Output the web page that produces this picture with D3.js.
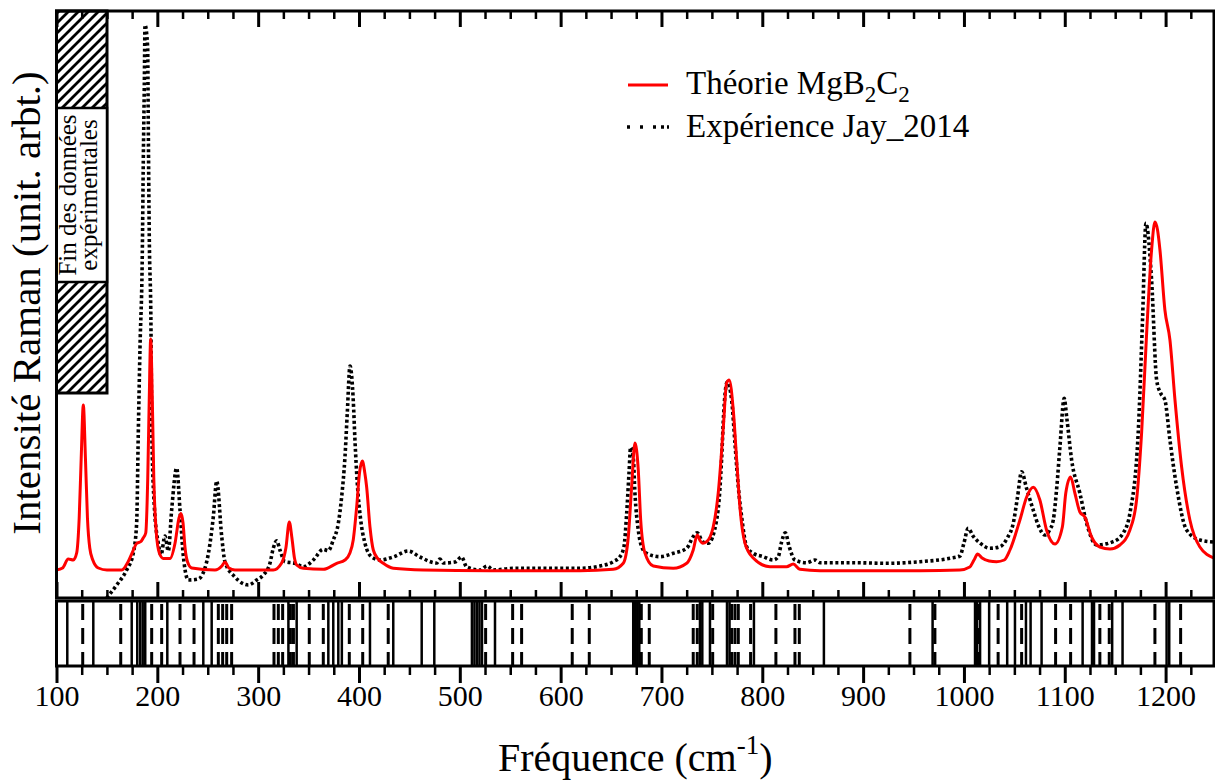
<!DOCTYPE html>
<html><head><meta charset="utf-8">
<script src="https://cdn.jsdelivr.net/npm/d3@7"></script>
<style>
body{margin:0;background:#fff}
svg{display:block}
svg text{font-family:"Liberation Serif","Nimbus Roman","Tinos","Times New Roman","DejaVu Serif",serif !important;fill:#000}
</style>
</head><body>
<svg id="c" width="1215" height="780"></svg>
<script>
// ---------- data ----------
const theoryFreq = [100,106,111.7,116.7,120,122.5,124.5,126.6,128.7,130.7,133,136,141.5,150,164.7,170.9,175,179.5,183.8,186,188.5,190.5,192,193.4,195,196.5,199,202,206,212.6,217.5,221.5,223.5,225.5,227.4,230,234.1,257.2,264,267.1,271,277,315,323.3,327.5,330.9,333.5,336,338.2,344.8,364.6,377.9,386.1,391,394.3,397.7,400.5,403.3,405.8,407.6,410.9,414.2,419,424.1,434,463.8,529.9,619.2,652.2,662.1,667.1,670.4,673.7,677,679.4,683.6,691.9,711.7,725,731.5,735.5,738.5,740.8,744.8,751.3,756.3,761.3,764.6,767.2,771.2,774.6,777.8,782.8,791,807.6,824.1,830.7,837.3,857.2,956.3,995.9,1005.8,1010,1013.6,1018,1025,1032.4,1040,1045.6,1055.5,1062.2,1068.7,1075.3,1081.9,1090.3,1097.6,1101,1105.8,1110,1115,1119.9,1126.6,1134.8,1144.8,1154.7,1164.6,1171.2,1176.2,1181.2,1186.1,1189.4,1192,1194.4,1199.3,1204.3,1209.3,1215.9,1224.1,1234,1248];
const theoryInt = [28,30,39,38,45,80,140,193,140,80,50,38,30,28,28,36,45,54.5,56.5,60,65,120,200,259,200,120,65,45,39.5,39.5,54.5,80,84.5,75,51,36,30,28,32,36,30,28,28,35,50,76,60,40,33,29.7,28.7,34.7,38,45,58,91,125,137,125,111,71,48,39,34.7,29.7,28,27.3,27.3,28.7,34.7,61,111,155,128,78,45,32,29.7,34.7,48,63,57,54.7,56.3,71,105,170,215,218,188,138,91,55,40,31.3,31.3,34,28.7,27.3,27.3,28,31,38,44,40,37,36.3,38,48,78,101,110.7,98,68,54,71,105,121,105,86,81,61,51,49,53,68,98,165,265,348,376,368,348,288,258,198,131,78,51,40];

const expFreq = [149.8,159.7,169.6,176.2,179.5,181.1,182.8,185.1,186.1,187.1,187.8,190.4,191,192,193.7,194.4,197,201,203.6,207.6,210.9,214.2,219.2,222.5,225.7,230.7,240.6,248.9,255.5,258.9,263.8,267.1,277,290.2,298.5,305.1,311.7,315,318.4,321.6,326.6,336.5,344.8,354.7,364.6,369.5,374.5,379.5,382.8,386.1,388.4,391.1,394.3,396,398.3,401.7,405.9,412.6,420.8,434,448.9,460.5,477,480.3,483.6,495.2,501.8,506.8,520,527,533.2,553,586.1,619.2,639,652.2,658.8,662.8,665.5,667.8,669.4,672,673.7,677,680.3,685.3,698.4,711.7,725,731.5,735.5,740.8,746.4,754.7,757.9,759.6,761.9,765.2,769.6,772.9,776.2,779.5,784.5,791,800.9,810.9,815.8,819.2,822.8,826.7,832.4,844,852.2,857.2,890.2,923.3,956.3,986.1,996,1000,1004.2,1009,1015.8,1025.7,1035.7,1043,1048.9,1053,1057.2,1062,1068.7,1074,1080.3,1085,1088.6,1092,1095.2,1099.4,1102,1106.8,1115,1121.7,1131.6,1148,1158,1164.6,1172.8,1177.2,1180.5,1186.1,1191.1,1195,1199.3,1204.3,1210.9,1220.8,1234,1248];
const expInt = [0,13,28,45,75,164,250,344,438,513,573,551,476,363,269,175,92,54.5,43,62,47,88,130,88,43,18,19,36,81,117,62,36,21,13,18,23,34.7,49.7,57.3,48,36.3,34.7,31.3,38,48.7,47.3,58,74.7,101,141,185,232,198,158,115,78,55,41,38,41,47,41,35,39,35,36,41,31,28,32,28,29.7,29.7,29.7,32,36.3,41.3,51.3,84.7,124.7,150.7,141.3,104.7,68,51.3,44.7,41.3,44.7,49.7,61.3,65.3,56.3,54.7,78,108,138,188,216,198,154.7,111.3,81.3,51.3,44.7,41.3,38,41.3,56.3,65.3,51.3,38,35.3,38,35.3,35.3,34.7,36.3,39.7,42,55,69.7,62,55,49.7,51.3,60,74.7,100,126.3,110,88,72,63,68,78,110,151.3,199.7,180,138,104.7,74.7,53,56.3,65,84.7,164.7,281.3,374.7,318,218,205,198,158,111.3,68,58,56];

const solidModes = [110.7,136.5,174.6,180.1,183,185.5,188,209.9,245.6,253.9,330,338.2,369.6,374.5,379.5,383,410.9,434,462.2,474.7,512,514.5,517,519.5,522,534.9,672,674,676,678,738.2,740.5,748.1,765,767.5,791.7,861.1,968.9,1011,1013,1016,1025,1042.9,1050.6,1061.5,1066.1,1077,1117.7,1127,1129,1147,1157.3,1201,1203.6];
const dashedModes = [126,163.7,194.4,204.3,222.5,236.4,260.5,264.8,268.8,273.7,315.7,320,324.3,332,335,350.7,364.6,390.4,403.7,429,525.6,552.4,561.3,611.5,628.4,680,687.9,731.5,735.5,750.8,769.6,772.9,776.2,788.4,813.5,832.4,836.7,946.4,971.2,1014.5,1033.9,1057.2,1090.9,1105.8,1134.8,1144.1,1189.4,1214.9];

const majorTicks = [100,200,300,400,500,600,700,800,900,1000,1100,1200];
const minorTicks = d3.range(125,1250,25).filter(v => v % 100 !== 0);

// ---------- layout ----------
const FONT = '"Liberation Serif","Nimbus Roman","Tinos","Times New Roman","DejaVu Serif",serif';
const L = 56.5, R = 1214, T = 11, B = 598, LT = 601, LB = 666;
const svg = d3.select("#c");
const x = d3.scaleLinear().domain([100,1248]).range([L,R]);
const y = d3.scaleLinear().domain([0,587]).range([B,T]);

const defs = svg.append("defs");
defs.append("clipPath").attr("id","clipMain").append("rect")
  .attr("x",L).attr("y",T).attr("width",R-L).attr("height",B-T);
defs.append("clipPath").attr("id","clipLow").append("rect")
  .attr("x",L).attr("y",LT).attr("width",R-L).attr("height",LB-LT);
const pat = defs.append("pattern").attr("id","hatch").attr("patternUnits","userSpaceOnUse")
  .attr("width",10).attr("height",10);
pat.append("path").attr("d","M-2,2 L2,-2 M0,10 L10,0 M8,12 L12,8")
  .attr("stroke","#000").attr("stroke-width",2.8);

// ---------- curves ----------
const line = d3.line().x(d=>x(d[0])).y(d=>y(d[1])).curve(d3.curveMonotoneX);
const theory = d3.zip(theoryFreq, theoryInt);
const exper = d3.zip(expFreq, expInt);

const gMain = svg.append("g").attr("clip-path","url(#clipMain)");
gMain.append("path").datum(exper).attr("d",line)
  .attr("fill","none").attr("stroke","#000").attr("stroke-width",3.6)
  .attr("stroke-dasharray","3,2.6");
gMain.append("path").datum(theory).attr("d",line)
  .attr("fill","none").attr("stroke","#ff0000").attr("stroke-width",3);

// ---------- hatched box ----------
const boxR = 107, boxB = 393, tbTop = 108, tbBot = 282;
svg.append("rect").attr("x",L).attr("y",T).attr("width",boxR-L).attr("height",boxB-T)
  .attr("fill","url(#hatch)").attr("stroke","#000").attr("stroke-width",3);
svg.append("rect").attr("x",L).attr("y",tbTop).attr("width",boxR-L).attr("height",tbBot-tbTop)
  .attr("fill","#fff").attr("stroke","#000").attr("stroke-width",2.5);
const cy = (tbTop+tbBot)/2;
[["Fin des données",76],["expérimentales",97]].forEach(([t,bx])=>{
  svg.append("text").attr("x",bx).attr("y",cy).attr("transform",`rotate(-90,${bx},${cy})`)
    .attr("text-anchor","middle").attr("font-family",FONT).attr("font-size",25).text(t);
});

// ---------- lower panel modes ----------
const gLow = svg.append("g").attr("clip-path","url(#clipLow)");
gLow.selectAll("line.s").data(solidModes).join("line").attr("class","s")
  .attr("x1",d=>x(d)).attr("x2",d=>x(d)).attr("y1",LT).attr("y2",LB)
  .attr("stroke","#000").attr("stroke-width",2.5);
gLow.selectAll("line.d").data(dashedModes).join("line").attr("class","d")
  .attr("x1",d=>x(d)).attr("x2",d=>x(d)).attr("y1",LT+3).attr("y2",LB)
  .attr("stroke","#000").attr("stroke-width",3).attr("stroke-dasharray","16,8");

// ---------- axes ----------
function styleAxis(g){ g.select(".domain").remove(); g.attr("font-family",FONT); g.selectAll("line").attr("stroke","#000"); }
svg.append("g").attr("transform",`translate(0,${T})`)
  .call(d3.axisBottom(x).tickValues(majorTicks).tickSize(16).tickFormat(""))
  .call(styleAxis).selectAll("line").attr("stroke-width",3);
svg.append("g").attr("transform",`translate(0,${T})`)
  .call(d3.axisBottom(x).tickValues(minorTicks).tickSize(8).tickFormat(""))
  .call(styleAxis).selectAll("line").attr("stroke-width",2.5);
svg.append("g").attr("transform",`translate(0,${B})`)
  .call(d3.axisTop(x).tickValues(majorTicks).tickSize(16).tickFormat(""))
  .call(styleAxis).selectAll("line").attr("stroke-width",3);
svg.append("g").attr("transform",`translate(0,${B})`)
  .call(d3.axisTop(x).tickValues(minorTicks).tickSize(8).tickFormat(""))
  .call(styleAxis).selectAll("line").attr("stroke-width",2.5);
const ax = svg.append("g").attr("transform",`translate(0,${LB})`)
  .call(d3.axisBottom(x).tickValues(majorTicks).tickSize(17).tickFormat(d3.format("d")))
  .call(styleAxis);
ax.selectAll("line").attr("stroke-width",3);
ax.selectAll("text").attr("y",40).attr("dy",0).attr("font-size",30)
  .attr("font-family",FONT).attr("fill","#000");
svg.append("g").attr("transform",`translate(0,${LB})`)
  .call(d3.axisBottom(x).tickValues(minorTicks).tickSize(9).tickFormat(""))
  .call(styleAxis).selectAll("line").attr("stroke-width",2.5);

const fr = svg.append("g").attr("fill","none").attr("stroke","#000").attr("stroke-width",3);
fr.append("rect").attr("x",L).attr("y",T).attr("width",R-L).attr("height",B-T);
fr.append("rect").attr("x",L).attr("y",LT).attr("width",R-L).attr("height",LB-LT);

// ---------- titles ----------
const xt = svg.append("text").attr("x",(L+R)/2).attr("y",771).attr("text-anchor","middle")
  .attr("font-family",FONT).attr("font-size",40);
xt.append("tspan").text("Fréquence (cm");
xt.append("tspan").attr("font-size",27).attr("dy",-17).text("-1");
xt.append("tspan").attr("dy",17).text(")");

svg.append("text").attr("transform","translate(40,303) rotate(-90)")
  .attr("text-anchor","middle").attr("font-family",FONT).attr("font-size",41)
  .text("Intensité Raman (unit. arbt.)");

// ---------- legend ----------
svg.append("line").attr("x1",628).attr("x2",668).attr("y1",85).attr("y2",85)
  .attr("stroke","#ff0000").attr("stroke-width",3);
svg.append("line").attr("x1",627).attr("x2",669).attr("y1",127).attr("y2",127)
  .attr("stroke","#000").attr("stroke-width",3.6).attr("stroke-dasharray","3,10,3,10,3,5,3,3");
const l1 = svg.append("text").attr("x",686).attr("y",94).attr("font-family",FONT).attr("font-size",33);
l1.append("tspan").text("Théorie MgB");
l1.append("tspan").attr("font-size",23).attr("dy",8).text("2");
l1.append("tspan").attr("dy",-8).text("C");
l1.append("tspan").attr("font-size",23).attr("dy",8).text("2");
svg.append("text").attr("x",686).attr("y",137).attr("font-family",FONT).attr("font-size",33)
  .text("Expérience Jay_2014");
</script>
</body></html>
